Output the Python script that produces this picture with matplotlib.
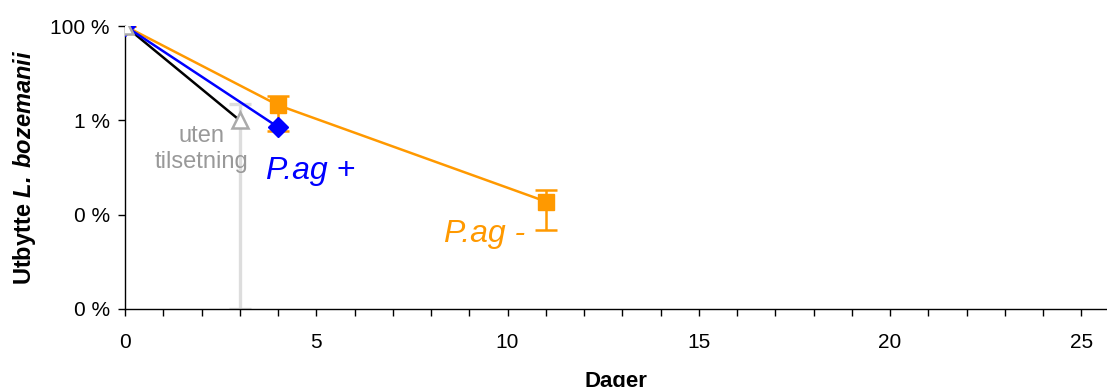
import matplotlib
matplotlib.use("Agg")
import matplotlib.pyplot as plt
from matplotlib.ticker import MultipleLocator, FixedLocator, NullLocator

plt.rcParams["font.family"] = ["Liberation Sans", "DejaVu Sans"]
plt.rcParams["mathtext.fontset"] = "custom"
plt.rcParams["mathtext.rm"] = "Liberation Sans"
plt.rcParams["mathtext.bf"] = "Liberation Sans:bold"
plt.rcParams["mathtext.bfit"] = "Liberation Sans:italic:bold"

# Yield of L. bozemanii (%), log scale
days_ctrl = [0, 3]
yield_ctrl = [100.0, 1.0]
ctrl_hi = [100.0, 2.2]
ctrl_lo = [100.0, 0.0001]

days_plus = [0, 4]
yield_plus = [100.0, 0.72]

days_minus = [0, 4, 11]
yield_minus = [100.0, 2.1, 0.019]
minus_hi = [100.0, 3.3, 0.034]
minus_lo = [100.0, 0.58, 0.0047]

y_ticks = [100, 1, 0.01, 0.0001]
y_ticklabels = ["100 %", "1 %", "0 %", "0 %"]

ORANGE = "#FF9900"
BLUE = "#0000FF"
GREY_TXT = "#999999"
GREY_MK = "#AAAAAA"
GREY_ERR = "#DDDDDD"

fig = plt.figure(figsize=(11.07, 3.87), dpi=100)
ax = fig.add_axes([125 / 1107, 78 / 387, 982 / 1107, 283 / 387])

# control (no additive): error bar behind, black line, grey hollow triangles
ax.errorbar(days_ctrl[1:], yield_ctrl[1:],
            yerr=[[yield_ctrl[1] - ctrl_lo[1]], [ctrl_hi[1] - yield_ctrl[1]]],
            fmt="none", ecolor=GREY_ERR, elinewidth=2.4, capsize=8, capthick=2.4,
            zorder=1)
ax.plot(days_ctrl, yield_ctrl, color="black", linewidth=1.8, zorder=2)

# P.ag -
ax.errorbar(days_minus, yield_minus,
            yerr=[[m - lo for m, lo in zip(yield_minus, minus_lo)],
                  [hi - m for m, hi in zip(yield_minus, minus_hi)]],
            color=ORANGE, linewidth=1.8, marker="s", markersize=11,
            ecolor=ORANGE, elinewidth=1.8, capsize=8, capthick=1.8, zorder=3)

# P.ag +
ax.plot(days_plus, yield_plus, color=BLUE, linewidth=1.8, marker="D",
        markersize=10, zorder=4)

ax.plot(days_ctrl, yield_ctrl, linestyle="none", marker="^", markersize=11,
        markerfacecolor="white", markeredgecolor=GREY_MK, markeredgewidth=1.8,
        zorder=5)

ax.text(2.01, 0.25, "uten\ntilsetning", color=GREY_TXT, fontsize=17,
        ha="center", va="center", multialignment="center", linespacing=1.25)
ax.text(4.86, 0.083, "P.ag +", color=BLUE, fontsize=23, style="italic",
        ha="center", va="center")
ax.text(9.39, 0.0039, "P.ag -", color=ORANGE, fontsize=23, style="italic",
        ha="center", va="center")

ax.set_yscale("log")
ax.set_ylim(0.0001, 100)
ax.set_xlim(0, 25.67)
ax.yaxis.set_major_locator(FixedLocator(y_ticks))
ax.set_yticklabels(y_ticklabels)
ax.yaxis.set_minor_locator(NullLocator())
ax.xaxis.set_major_locator(MultipleLocator(5))
ax.xaxis.set_minor_locator(MultipleLocator(1))

for side in ("top", "right"):
    ax.spines[side].set_visible(False)
for side in ("left", "bottom"):
    ax.spines[side].set_linewidth(1.0)
ax.tick_params(axis="both", which="both", direction="out", length=5,
               width=1.0, labelsize=15)
ax.tick_params(axis="x", which="major", pad=12)
ax.tick_params(axis="y", which="major", pad=6)

ax.set_xlabel("Dager", fontsize=16, fontweight="bold", labelpad=14)
ax.set_ylabel(r"Utbytte $\mathbfit{L.\,bozemanii}$", fontsize=17,
              fontweight="bold", labelpad=9)

fig.savefig("out.png", dpi=100)
